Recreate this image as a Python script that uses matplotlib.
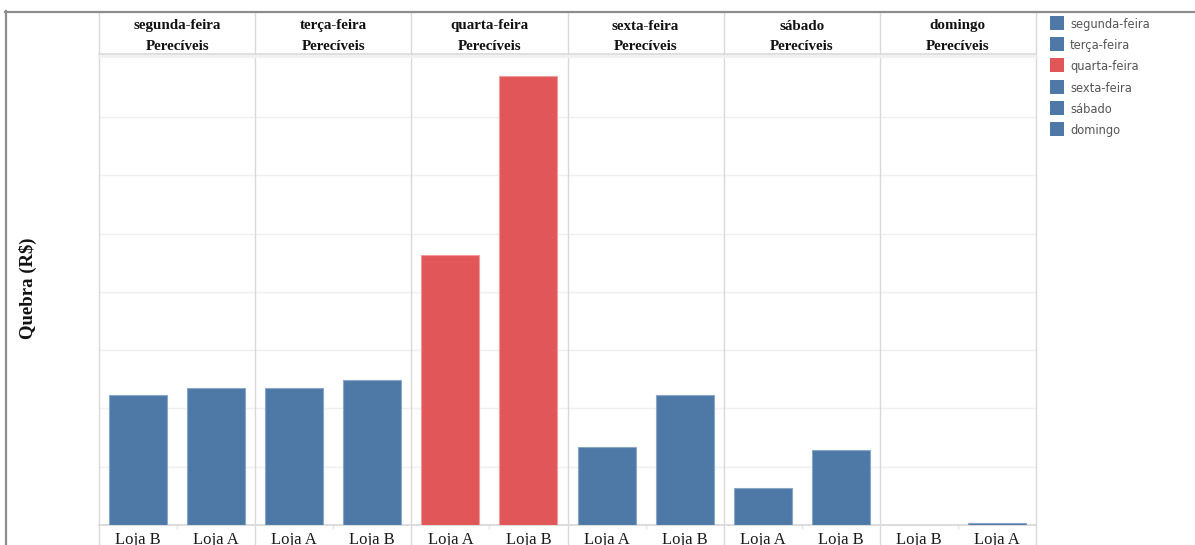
import matplotlib
matplotlib.use("Agg")
import matplotlib.pyplot as plt
import matplotlib.transforms as mtransforms
from matplotlib.lines import Line2D
from matplotlib.patches import Rectangle
import numpy as np

# ---- data -------------------------------------------------------------
dias = ["segunda-feira", "terça-feira", "quarta-feira", "sexta-feira", "sábado", "domingo"]
categoria = "Perecíveis"
lojas = [
    ["Loja B", "Loja A"],
    ["Loja A", "Loja B"],
    ["Loja A", "Loja B"],
    ["Loja A", "Loja B"],
    ["Loja A", "Loja B"],
    ["Loja B", "Loja A"],
]
quebra = [
    [2225, 2350],
    [2350, 2490],
    [4630, 7700],
    [1330, 2225],
    [640, 1280],
    [0, 30],
]
cor_dia = {
    "segunda-feira": "#4e79a7",
    "terça-feira": "#4e79a7",
    "quarta-feira": "#e15759",
    "sexta-feira": "#4e79a7",
    "sábado": "#4e79a7",
    "domingo": "#4e79a7",
}
borda_dia = {"#4e79a7": "#8aa6c6", "#e15759": "#ef9a9b"}

# ---- figure geometry (pixels) ----------------------------------------
W, H = 1195, 545
DPI = 100
fig = plt.figure(figsize=(W / DPI, H / DPI), dpi=DPI)
fig.patch.set_facecolor("white")

def fy(py):
    return 1 - py / H

def fx(px):
    return px / W

left, right = 99, 1036
top, base = 54.5, 525
grid_px = 58.3  # pixels per 1000 R$

ax = fig.add_axes([fx(left), fy(base), fx(right - left), (base - top) / H])
n = len(dias)
ax.set_xlim(0, 2 * n)
ax.set_ylim(0, (base - top) / grid_px * 1000)

serif = "Liberation Serif"

# bars
bar_w = 0.743
for i, dia in enumerate(dias):
    c = cor_dia[dia]
    for j in range(2):
        ax.bar(2 * i + j + 0.5, quebra[i][j], width=bar_w, color=c,
               edgecolor=borda_dia[c], linewidth=0.8, zorder=3)

# gridlines
ax.set_yticks(np.arange(1000, 7001, 1000))
ax.yaxis.grid(True, color="#efefef", linewidth=1.0, zorder=0)
ax.tick_params(axis="y", length=0, labelleft=False)
ax.set_axisbelow(True)

# x ticks: small marks between the two stores of each day
ax.set_xticks([])
ax.set_xticks(np.arange(1, 2 * n, 2), minor=True)
ax.tick_params(axis="x", which="minor", length=3, color="#e6e6e6", width=1, labelbottom=False)
ax.tick_params(axis="x", which="major", labelbottom=False)

for s in ["top", "left", "right"]:
    ax.spines[s].set_visible(False)
ax.spines["bottom"].set_color("#d6d6d6")
ax.spines["bottom"].set_linewidth(1.2)

bt = mtransforms.blended_transform_factory(ax.transData, fig.transFigure)

# panel separators spanning header, plot and labels
for k in range(n + 1):
    fig.add_artist(Line2D([k * 2, k * 2], [fy(12), 0], transform=bt,
                          color="#d9d9d9", linewidth=1.0, zorder=1))

# header rule below the day names
fig.add_artist(Line2D([0, 2 * n], [fy(55.8), fy(55.8)], transform=bt,
                      color="#f0f0f0", linewidth=2.0))
fig.add_artist(Line2D([0, 2 * n], [fy(54), fy(54)], transform=bt,
                      color="#d9d9d9", linewidth=1.2))

# header texts
for i, dia in enumerate(dias):
    xc = 2 * i + 1
    fig.text(xc, fy(29.5), dia, transform=bt, ha="center", va="baseline",
             fontsize=10.8, fontweight="bold", family=serif, color="#111111")
    fig.text(xc, fy(49.5), categoria, transform=bt, ha="center", va="baseline",
             fontsize=10.8, fontweight="bold", family=serif, color="#111111")

# store labels below bars
for i in range(n):
    for j in range(2):
        fig.text(2 * i + j + 0.5, fy(544), lojas[i][j], transform=bt,
                 ha="center", va="baseline", fontsize=12, family=serif,
                 color="#1a1a1a")

# y axis title
fig.text(fx(28), fy(288), "Quebra (R$)", rotation=90, ha="center", va="center",
         fontsize=13.5, fontweight="bold", family=serif, color="#111111")

# outer frame
fig.add_artist(Line2D([fx(6), fx(6)], [fy(11), 0], transform=fig.transFigure,
                      color="#8c8c8c", linewidth=1.6))
fig.add_artist(Line2D([fx(5.3), 1], [fy(11.8), fy(11.8)], transform=fig.transFigure,
                      color="#8c8c8c", linewidth=1.6))

# color legend
for k, dia in enumerate(dias):
    cy = 23 + 21.2 * k
    fig.add_artist(Rectangle((fx(1050), fy(cy + 7)), 14 / W, 14 / H,
                             transform=fig.transFigure, facecolor=cor_dia[dia],
                             edgecolor="none"))
    fig.text(fx(1070), fy(cy), dia, ha="left", va="center_baseline",
             fontsize=8.3, family="DejaVu Sans", color="#555555")

fig.savefig("out.png", dpi=DPI, facecolor="white")
